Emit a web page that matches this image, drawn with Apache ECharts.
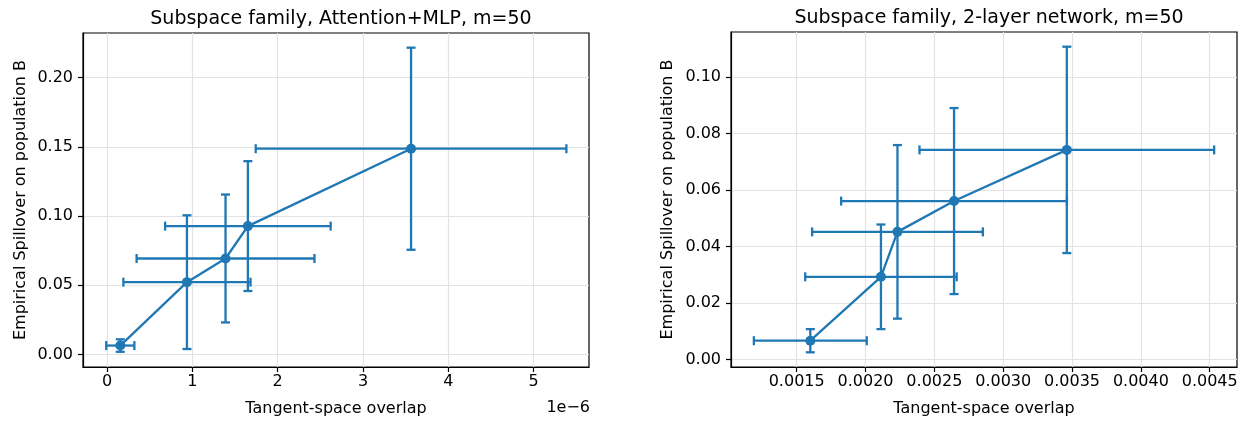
<!DOCTYPE html>
<html><head><meta charset="utf-8">
<script src="https://cdn.jsdelivr.net/npm/echarts@6/dist/echarts.min.js"></script>
<style>html,body{margin:0;padding:0;background:#fff}#c{width:1246px;height:423px}</style>
</head><body><div id="c"></div>
<script>
// Left panel: x in units of 1e-6
const leftTitle = 'Subspace family, Attention+MLP, m=50';
const leftX = [0.156, 0.937, 1.389, 1.651, 3.563];
const leftY = [0.0065, 0.0523, 0.0694, 0.0928, 0.1487];
const leftXErr = [0.165, 0.745, 1.042, 0.970, 1.820];
const leftYErr = [0.0045, 0.0483, 0.0462, 0.0469, 0.0730];
const leftXTicks = [0, 1, 2, 3, 4, 5];
const leftYTicks = [0, 0.05, 0.10, 0.15, 0.20];

// Right panel
const rightTitle = 'Subspace family, 2-layer network, m=50';
const rightX = [0.001599, 0.002112, 0.002232, 0.002643, 0.003462];
const rightY = [0.0067, 0.0293, 0.0452, 0.0561, 0.0742];
const rightXErr = [0.00041, 0.00055, 0.00062, 0.00082, 0.00107];
const rightYErr = [0.0041, 0.0185, 0.0307, 0.0329, 0.0365];
const rightXTicks = [0.0015, 0.0020, 0.0025, 0.0030, 0.0035, 0.0040, 0.0045];
const rightYTicks = [0, 0.02, 0.04, 0.06, 0.08, 0.10];

const xName = 'Tangent-space overlap';
const yName = 'Empirical Spillover on population B';
const offsetLabel = '1e\u22126';

const C = '#1f77b4';
const FONT = 'DejaVu Sans';

function errData(xs, ys, xe, ye) {
  return xs.map((x, i) => [x, ys[i], x - xe[i], x + xe[i], ys[i] - ye[i], ys[i] + ye[i]]);
}
function renderErr(params, api) {
  const x = api.value(0), y = api.value(1);
  const p = api.coord([x, y]);
  const xl = api.coord([api.value(2), y]);
  const xr = api.coord([api.value(3), y]);
  const yl = api.coord([x, api.value(4)]);
  const yh = api.coord([x, api.value(5)]);
  const cap = 4.5;
  const st = {stroke: C, lineWidth: 2.3};
  const L = (x1, y1, x2, y2) => ({type: 'line', shape: {x1, y1, x2, y2}, style: st});
  return {type: 'group', children: [
    L(xl[0], p[1], xr[0], p[1]),
    L(xl[0], p[1] - cap, xl[0], p[1] + cap),
    L(xr[0], p[1] - cap, xr[0], p[1] + cap),
    L(p[0], yl[1], p[0], yh[1]),
    L(p[0] - cap, yl[1], p[0] + cap, yl[1]),
    L(p[0] - cap, yh[1], p[0] + cap, yh[1])
  ]};
}
const txt = {color: '#000', fontFamily: FONT, fontSize: 16};
function xAxisCfg(idx, min, max, ticks, fmt) {
  return {
    type: 'value', gridIndex: idx, min, max,
    name: xName, nameLocation: 'middle', nameGap: 34, nameTextStyle: txt,
    axisLine: {show: true, onZero: false, lineStyle: {color: '#000', width: 1.2}},
    axisTick: {show: true, length: 5, customValues: ticks, lineStyle: {color: '#000', width: 1.2}},
    axisLabel: {customValues: ticks, formatter: fmt, margin: 7, ...txt},
    splitLine: {show: true, lineStyle: {color: '#e3e3e3', width: 1.2}}
  };
}
function yAxisCfg(idx, min, max, ticks, fmt, gap) {
  return {
    type: 'value', gridIndex: idx, min, max,
    name: yName, nameLocation: 'middle', nameGap: gap, nameTextStyle: txt,
    axisLine: {show: true, onZero: false, lineStyle: {color: '#000', width: 1.2}},
    axisTick: {show: true, length: 5, customValues: ticks, lineStyle: {color: '#000', width: 1.2}},
    axisLabel: {customValues: ticks, formatter: fmt, margin: 10, ...txt},
    splitLine: {show: true, lineStyle: {color: '#e3e3e3', width: 1.2}}
  };
}
const chart = echarts.init(document.getElementById('c'), null, {renderer: 'canvas'});
chart.setOption({
  animation: false,
  backgroundColor: '#fff',
  title: [
    {text: leftTitle, left: 336, top: 5, textAlign: 'center', textStyle: {fontFamily: FONT, fontSize: 19, fontWeight: 'normal', color: '#000'}},
    {text: rightTitle, left: 984, top: 4, textAlign: 'center', textStyle: {fontFamily: FONT, fontSize: 19, fontWeight: 'normal', color: '#000'}}
  ],
  grid: [
    {left: 83, top: 33, width: 506, height: 334, show: true, borderColor: '#000', borderWidth: 1.2, backgroundColor: 'transparent'},
    {left: 731, top: 32, width: 506, height: 335, show: true, borderColor: '#000', borderWidth: 1.2, backgroundColor: 'transparent'}
  ],
  xAxis: [
    xAxisCfg(0, -0.281, 5.648, leftXTicks, v => String(Math.round(v))),
    xAxisCfg(1, 0.001023, 0.004698, rightXTicks, v => v.toFixed(4))
  ],
  yAxis: [
    yAxisCfg(0, -0.009, 0.2323, leftYTicks, v => v.toFixed(2), 54),
    yAxisCfg(1, -0.0026, 0.1159, rightYTicks, v => v.toFixed(2), 55)
  ],
  graphic: [
    {type: 'text', right: 1246 - 590, top: 400, style: {text: offsetLabel, fill: '#000', font: '16px "DejaVu Sans"'}}
  ],
  series: [
    {type: 'custom', xAxisIndex: 0, yAxisIndex: 0, renderItem: renderErr, data: errData(leftX, leftY, leftXErr, leftYErr), z: 2},
    {type: 'line', xAxisIndex: 0, yAxisIndex: 0, data: leftX.map((x, i) => [x, leftY[i]]), symbol: 'circle', symbolSize: 10, showSymbol: true,
     lineStyle: {color: C, width: 2.3}, itemStyle: {color: C}, z: 3},
    {type: 'custom', xAxisIndex: 1, yAxisIndex: 1, renderItem: renderErr, data: errData(rightX, rightY, rightXErr, rightYErr), z: 2},
    {type: 'line', xAxisIndex: 1, yAxisIndex: 1, data: rightX.map((x, i) => [x, rightY[i]]), symbol: 'circle', symbolSize: 10, showSymbol: true,
     lineStyle: {color: C, width: 2.3}, itemStyle: {color: C}, z: 3}
  ]
});
</script></body></html>
